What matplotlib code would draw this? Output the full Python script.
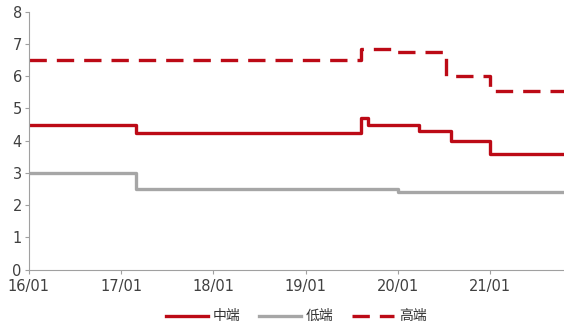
import pandas as pd
import matplotlib.pyplot as plt
import matplotlib.dates as mdates

plt.rcParams['font.family'] = ['Noto Sans CJK SC', 'DejaVu Sans']

# change points (date, rate) for each tier; last value runs to the end date
end_date = '2021-10-20'

mid_dates = ['2016-01-01', '2017-03-01', '2019-08-10', '2019-09-05',
             '2020-03-25', '2020-07-28', '2021-01-01']
mid_vals = [4.5, 4.25, 4.7, 4.5, 4.3, 4.0, 3.6]

low_dates = ['2016-01-01', '2017-03-01', '2020-01-01']
low_vals = [3.0, 2.5, 2.4]

high_dates = ['2016-01-01', '2019-08-10', '2019-12-18', '2020-07-10', '2021-01-01']
high_vals = [6.5, 6.85, 6.75, 6.0, 5.55]

red = '#BC0A16'
gray = '#A6A6A6'


def steps(dates, vals):
    x = pd.to_datetime(dates + [end_date])
    y = vals + [vals[-1]]
    return x, y


fig = plt.figure(figsize=(5.64, 3.31), dpi=100)
ax = fig.add_axes([0.051, 0.185, 0.949, 0.78])

x, y = steps(mid_dates, mid_vals)
ax.step(x, y, where='post', color=red, lw=2.4, label='中端')
x, y = steps(low_dates, low_vals)
ax.step(x, y, where='post', color=gray, lw=2.4, label='低端')
x, y = steps(high_dates, high_vals)
ax.step(x, y, where='post', color=red, lw=2.4, ls=(0, (5.2, 3.0)), label='高端')

ax.set_xlim(pd.Timestamp('2016-01-01'), pd.Timestamp(end_date))
ax.set_ylim(0, 8)
ax.set_yticks(range(0, 9))
ax.xaxis.set_major_locator(mdates.YearLocator())
ax.xaxis.set_major_formatter(mdates.DateFormatter('%y/%m'))

for s in ['top', 'right']:
    ax.spines[s].set_visible(False)
for s in ['left', 'bottom']:
    ax.spines[s].set_color('#A0A0A0')
    ax.spines[s].set_linewidth(0.8)
ax.tick_params(axis='both', colors='#A0A0A0', labelcolor='#404040',
               labelsize=10.5, length=3, width=0.8,
               labelfontfamily='DejaVu Sans')
ax.tick_params(axis='y', pad=2)
ax.tick_params(axis='x', pad=4)

ax.legend(loc='upper center', bbox_to_anchor=(0.5, -0.105), ncol=3,
          frameon=False, fontsize=10, handlelength=3.0, columnspacing=1.3,
          handletextpad=0.4, labelcolor='#333333')

fig.savefig('out.png', dpi=100)
